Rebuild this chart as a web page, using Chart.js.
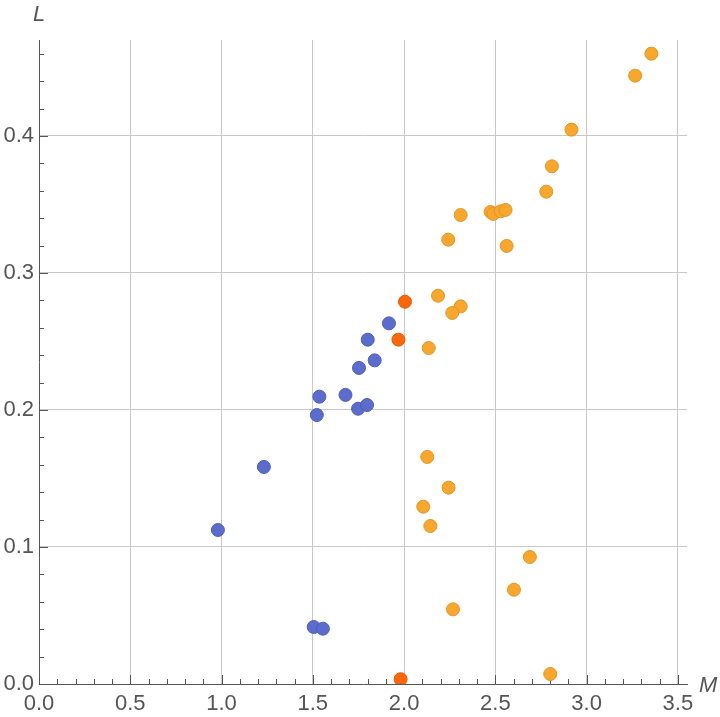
<!DOCTYPE html>
<html>
<head>
<meta charset="utf-8">
<script src="https://cdn.jsdelivr.net/npm/chart.js@4.4.0/dist/chart.umd.min.js"></script>
<style>
  html, body { margin: 0; padding: 0; background: #fff; }
  canvas { display: block; }
</style>
</head>
<body>
<canvas id="scatter-chart" width="720" height="717"></canvas>
<script>
// values
const blueM = [0.980, 1.232, 1.522, 1.536, 1.679, 1.748, 1.797, 1.753, 1.839, 1.801, 1.917, 1.505, 1.555];
const blueL = [0.1124, 0.1584, 0.1963, 0.2097, 0.2110, 0.2009, 0.2036, 0.2307, 0.2362, 0.2513, 0.2632, 0.0416, 0.0404];

const orangeM = [3.355, 3.266, 2.917, 2.810, 2.779, 2.474, 2.489, 2.529, 2.556, 2.310, 2.242, 2.562,
  2.186, 2.310, 2.264, 2.135, 2.127, 2.244, 2.105, 2.144, 2.689, 2.602, 2.268, 2.801];
const orangeL = [0.4600, 0.4440, 0.4046, 0.3778, 0.3593, 0.3445, 0.3431, 0.3450, 0.3460, 0.3423, 0.3243, 0.3197,
  0.2834, 0.2756, 0.2708, 0.2452, 0.1657, 0.1433, 0.1294, 0.1153, 0.0927, 0.0688, 0.0545, 0.0073];

const darkM = [2.005, 1.969, 1.981];
const darkL = [0.2790, 0.2513, 0.0035];

const xMajorTicks = [0, 0.5, 1.0, 1.5, 2.0, 2.5, 3.0, 3.5];
const yMajorTicks = [0, 0.1, 0.2, 0.3, 0.4];
const xMinorStep = 0.1;
const yMinorStep = 0.02;

const toPoints = (xs, ys) => xs.map((x, i) => ({ x: x, y: ys[i] }));

const buildTicks = (max, step) => {
  let out = [];
  for (let i = 0; i * step <= max + 1e-9; i++) {
    out.push(Math.round(i * step * 1000) / 1000);
  }
  return out;
};

const isMajor = (v, majors) => majors.some((m) => Math.abs(m - v) < 1e-6);

const labelFont = { family: 'Liberation Sans', size: 22 };
const labelColor = '#555555';

// inward tick marks and axis names, drawn the Mathematica way
const axisDecor = {
  id: 'axisDecor',
  beforeDatasetsDraw(chart) {
    const c = chart.ctx;
    const area = chart.chartArea;
    const xs = chart.scales.x;
    const ys = chart.scales.y;
    c.save();
    c.strokeStyle = '#555555';
    c.lineWidth = 1;
    xs.ticks.forEach((t) => {
      const px = Math.round(xs.getPixelForValue(t.value)) + 0.5;
      const len = isMajor(t.value, xMajorTicks) ? 9 : 5;
      c.beginPath();
      c.moveTo(px, area.bottom);
      c.lineTo(px, area.bottom - len);
      c.stroke();
    });
    ys.ticks.forEach((t) => {
      const py = Math.round(ys.getPixelForValue(t.value)) + 0.5;
      const len = isMajor(t.value, yMajorTicks) ? 9 : 5;
      c.beginPath();
      c.moveTo(area.left, py);
      c.lineTo(area.left + len, py);
      c.stroke();
    });
    c.restore();
  },
  afterDraw(chart) {
    const c = chart.ctx;
    const area = chart.chartArea;
    c.save();
    c.fillStyle = labelColor;
    c.font = 'italic 22px "Liberation Sans"';
    c.textBaseline = 'middle';
    c.textAlign = 'center';
    c.fillText('L', area.left, 15);
    c.textAlign = 'left';
    c.fillText('M', area.right + 12, area.bottom + 2);
    c.restore();
  }
};

const ctx = document.getElementById('scatter-chart').getContext('2d');

const chart = new Chart(ctx, {
  type: 'scatter',
  data: {
    datasets: [
      {
        label: 'blue',
        data: toPoints(blueM, blueL),
        backgroundColor: '#5c6ccc',
        borderColor: '#4e5db5',
        borderWidth: 1,
        pointRadius: 6.5,
      },
      {
        label: 'orange',
        data: toPoints(orangeM, orangeL),
        backgroundColor: '#f7a72d',
        borderColor: '#e09526',
        borderWidth: 1,
        pointRadius: 6.5,
      },
      {
        label: 'dark',
        data: toPoints(darkM, darkL),
        backgroundColor: '#fc670c',
        borderColor: '#e05a06',
        borderWidth: 1,
        pointRadius: 6.5,
      },
    ],
  },
  options: {
    responsive: false,
    animation: false,
    devicePixelRatio: 1,
    layout: { padding: { top: 40, right: 33, left: 0, bottom: 0 } },
    plugins: {
      legend: { display: false },
      tooltip: { enabled: false },
    },
    scales: {
      x: {
        type: 'linear',
        min: 0,
        max: 3.55,
        afterBuildTicks: (scale) => {
          scale.ticks = buildTicks(3.5, xMinorStep).map((v) => ({ value: v }));
        },
        afterFit: (scale) => { scale.height = 33; },
        grid: {
          drawTicks: false,
          color: (c) => (c.tick && c.tick.value > 0 && isMajor(c.tick.value, xMajorTicks)) ? '#c8c8c8' : 'rgba(0,0,0,0)',
          lineWidth: 1,
        },
        border: { color: '#555555', width: 1 },
        ticks: {
          autoSkip: false,
          maxRotation: 0,
          padding: 7,
          color: labelColor,
          font: labelFont,
          callback: (v) => isMajor(v, xMajorTicks) ? v.toFixed(1) : '',
        },
      },
      y: {
        type: 'linear',
        min: 0,
        max: 0.47,
        afterBuildTicks: (scale) => {
          scale.ticks = buildTicks(0.46, yMinorStep).map((v) => ({ value: v }));
        },
        afterFit: (scale) => { scale.width = 39; },
        grid: {
          drawTicks: false,
          color: (c) => (c.tick && c.tick.value > 0 && isMajor(c.tick.value, yMajorTicks)) ? '#c8c8c8' : 'rgba(0,0,0,0)',
          lineWidth: 1,
        },
        border: { color: '#555555', width: 1 },
        ticks: {
          autoSkip: false,
          padding: 5,
          color: labelColor,
          font: labelFont,
          callback: (v) => isMajor(v, yMajorTicks) ? v.toFixed(1) : '',
        },
      },
    },
  },
  plugins: [axisDecor],
});
</script>
</body>
</html>
